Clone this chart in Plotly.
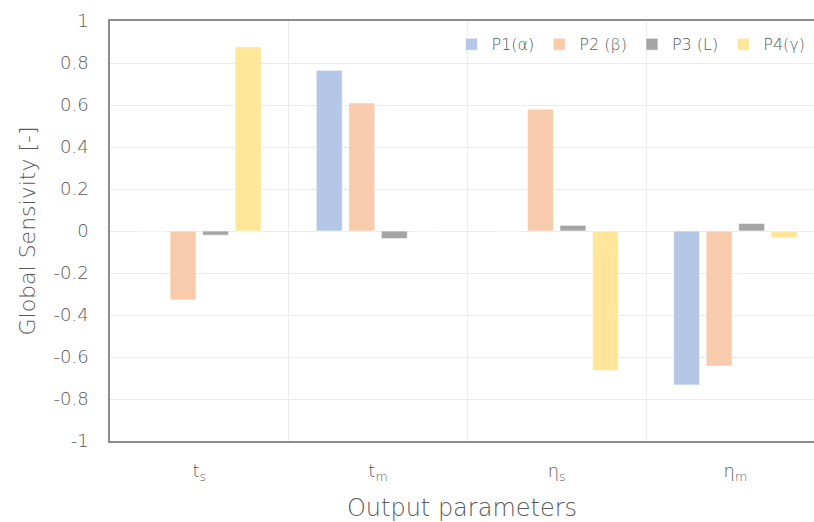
import plotly.graph_objects as go

categories = ["t<sub>s</sub>", "t<sub>m</sub>", "η<sub>s</sub>", "η<sub>m</sub>"]
series_names = ["P1(α)", "P2 (β)", "P3 (L)", "P4(γ)"]
p1 = [0.0, 0.765, 0.0, -0.733]
p2 = [-0.328, 0.61, 0.58, -0.643]
p3 = [-0.02, -0.036, 0.027, 0.036]
p4 = [0.877, 0.0, -0.664, -0.033]
y_tick_vals = [1, 0.8, 0.6, 0.4, 0.2, 0, -0.2, -0.4, -0.6, -0.8, -1]
y_tick_text = ["1", "0.8", "0.6", "0.4", "0.2", "0", "-0.2", "-0.4", "-0.6", "-0.8", "-1"]

colors = ["#B4C7E7", "#F8CBAD", "#A5A5A5", "#FFE699"]
font_family = "'DejaVu Sans', sans-serif"
text_color = "#595959"

fig = go.Figure()
for name, vals, col in zip(series_names, [p1, p2, p3, p4], colors):
    fig.add_trace(go.Bar(
        x=categories, y=vals, name=name,
        marker=dict(color=col, line=dict(color="rgba(255,255,255,0.6)", width=1)),
    ))

fig.update_layout(
    width=814, height=522,
    margin=dict(l=110, r=0, t=21, b=81),
    paper_bgcolor="white", plot_bgcolor="white",
    barmode="group", bargap=0.272, bargroupgap=0.2,
    font=dict(family=font_family, color=text_color, size=15),
    legend=dict(
        orientation="h", x=0.995, xanchor="right", y=0.985, yanchor="top",
        bgcolor="rgba(0,0,0,0)", font=dict(size=16, color=text_color, weight=300),
        itemwidth=30, traceorder="normal",
    ),
    xaxis=dict(
        type="category", range=[-0.5, 3.44],
        showline=True, linecolor="#8C8C8C", linewidth=1.5, mirror=True,
        showgrid=True, gridcolor="#EBEBEB", gridwidth=1, tickson="boundaries",
        ticks="", tickfont=dict(size=18, color=text_color, weight=300),
        ticklabelstandoff=13,
        title=dict(text="Output parameters", font=dict(size=24, color=text_color, weight=300), standoff=16),
    ),
    yaxis=dict(
        range=[-1, 1], tickvals=y_tick_vals, ticktext=y_tick_text,
        showline=True, linecolor="#8C8C8C", linewidth=1.5,
        showgrid=True, gridcolor="#EBEBEB", gridwidth=1,
        zeroline=True, zerolinecolor="#EBEBEB", zerolinewidth=1,
        ticks="", ticklabelstandoff=16, tickfont=dict(size=18, color=text_color, weight=300),
        title=dict(text="Global Sensivity [-]", font=dict(size=22, color=text_color, weight=300), standoff=12),
    ),
)

fig.write_html("out.html")
